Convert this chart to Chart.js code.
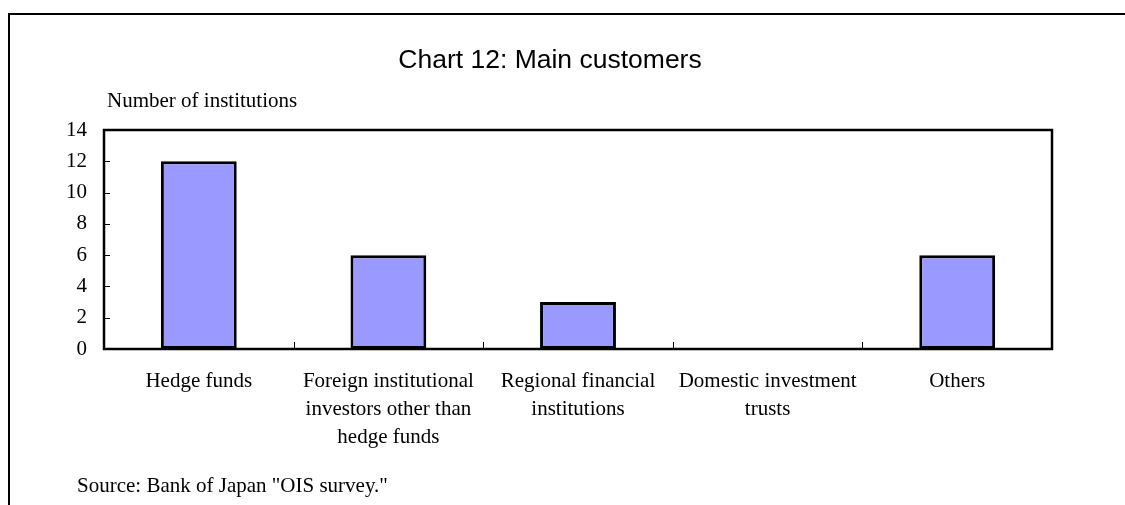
<!DOCTYPE html>
<html>
<head>
<meta charset="utf-8">
<title>Chart 12: Main customers</title>
<script src="https://cdn.jsdelivr.net/npm/chart.js@4.4.0/dist/chart.umd.min.js"></script>
<style>
  html, body { margin: 0; padding: 0; background: #fff; }
  #wrap { width: 1125px; height: 505px; position: relative; }
</style>
</head>
<body>
<div id="wrap"><canvas id="customersChart"></canvas></div>
<script>
// data
const categories = [
  ["Hedge funds"],
  ["Foreign institutional", "investors other than", "hedge funds"],
  ["Regional financial", "institutions"],
  ["Domestic investment", "trusts"],
  ["Others"],
];
const counts = [12, 6, 3, 0, 6];
const yMin = 0;
const yMax = 14;
const yStep = 2;

const titleText = "Chart 12: Main customers";
const yAxisTitle = "Number of institutions";
const sourceText = 'Source: Bank of Japan "OIS survey."';

const serif = '"Liberation Serif", "Times New Roman", serif';
const sans = '"Liberation Sans", Arial, sans-serif';

// frame, titles, plot border and inward tick marks
const decorPlugin = {
  id: "decor",
  afterDraw: (chart) => {
    const ctx = chart.ctx;
    const area = chart.chartArea;
    const x = chart.scales.x;
    const y = chart.scales.y;
    ctx.save();

    // outer frame (top and left only)
    ctx.strokeStyle = "#000";
    ctx.lineWidth = 2;
    ctx.beginPath();
    ctx.moveTo(9, 505);
    ctx.lineTo(9, 14);
    ctx.lineTo(1125, 14);
    ctx.stroke();

    // plot border
    ctx.lineWidth = 2.5;
    ctx.strokeRect(area.left, area.top, area.right - area.left, area.bottom - area.top);

    // y ticks pointing inward
    ctx.lineWidth = 1;
    ctx.beginPath();
    for (let v = yMin + yStep; v < yMax; v += yStep) {
      const py = Math.round(y.getPixelForValue(v)) + 0.5;
      ctx.moveTo(area.left, py);
      ctx.lineTo(area.left + 6, py);
    }
    // x ticks between categories
    for (let i = 1; i < categories.length; i++) {
      const px = Math.round((x.getPixelForValue(i - 1) + x.getPixelForValue(i)) / 2) + 0.5;
      ctx.moveTo(px, area.bottom);
      ctx.lineTo(px, area.bottom - 7);
    }
    ctx.stroke();

    ctx.fillStyle = "#000";
    ctx.font = `26.5px ${sans}`;
    ctx.textAlign = "center";
    ctx.textBaseline = "middle";
    ctx.fillText(titleText, 550, 61);

    ctx.font = `21px ${serif}`;
    ctx.textAlign = "left";
    ctx.fillText(yAxisTitle, 107, 101);
    ctx.fillText(sourceText, 77, 486);
    ctx.restore();
  },
};

const ctx = document.getElementById("customersChart").getContext("2d");
new Chart(ctx, {
  type: "bar",
  data: {
    labels: categories,
    datasets: [
      {
        data: counts,
        backgroundColor: "#9999ff",
        borderColor: "#000",
        borderWidth: 3,
        borderSkipped: false,
        categoryPercentage: 1,
        barPercentage: 0.4,
      },
    ],
  },
  options: {
    responsive: true,
    maintainAspectRatio: false,
    animation: false,
    layout: { padding: { top: 130, right: 73, bottom: 0, left: 0 } },
    plugins: { legend: { display: false }, tooltip: { enabled: false }, title: { display: false } },
    scales: {
      x: {
        grid: { display: false, drawTicks: false },
        border: { display: false },
        ticks: {
          color: "#000",
          font: { family: serif, size: 21, lineHeight: 1.33 },
          padding: 19,
          maxRotation: 0,
          autoSkip: false,
        },
        afterFit: (scale) => { scale.height = 156; },
      },
      y: {
        min: yMin,
        max: yMax,
        grid: { display: false, drawTicks: false },
        border: { display: false },
        ticks: {
          stepSize: yStep,
          color: "#000",
          font: { family: serif, size: 21 },
          padding: 17,
        },
        afterFit: (scale) => { scale.width = 104; },
      },
    },
  },
  plugins: [decorPlugin],
});
</script>
</body>
</html>
